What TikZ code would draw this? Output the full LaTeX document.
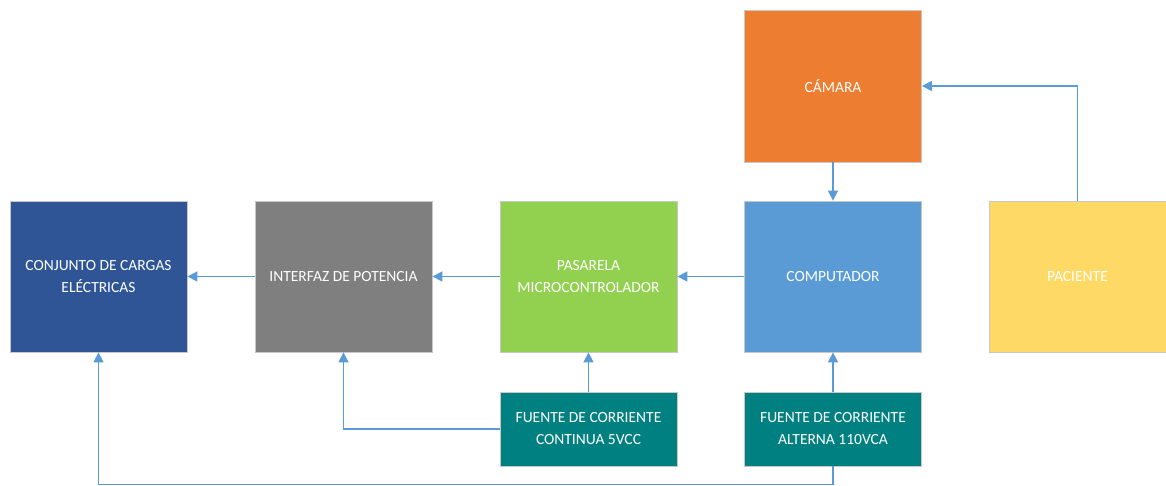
\documentclass[tikz,border=0pt]{standalone}
\usepackage{fontspec}
\setmainfont{Carlito}
\usetikzlibrary{arrows.meta}
\definecolor{azul}{HTML}{2F5597}
\definecolor{gris}{HTML}{7F7F7F}
\definecolor{verde}{HTML}{92D050}
\definecolor{celeste}{HTML}{5B9BD5}
\definecolor{naranja}{HTML}{ED7D31}
\definecolor{amarillo}{HTML}{FFD966}
\definecolor{teal}{HTML}{008080}
\definecolor{borde}{HTML}{C8C8C8}
\begin{document}
\begin{tikzpicture}[x=1pt,y=1pt,
  bloque/.style={draw=borde,line width=0.8pt,text=white,align=center,
    minimum width=177pt,minimum height=151pt,inner sep=0pt,
    font=\fontsize{15.5}{22}\selectfont},
  fuente/.style={bloque,fill=teal,minimum height=74pt},
  flecha/.style={draw=celeste,line width=1.5pt,-{Triangle[width=10pt,length=10pt]}},
  linea/.style={draw=celeste,line width=1.5pt}]
\useasboundingbox (0,0) rectangle (1166,486);
% fila principal
\node[bloque,fill=azul] (conj) at (98.5,209.5) {CONJUNTO DE CARGAS\\ELÉCTRICAS};
\node[bloque,fill=gris] (interfaz) at (343.5,209.5) {INTERFAZ DE POTENCIA};
\node[bloque,fill=verde] (pasarela) at (588.5,209.5) {PASARELA\\MICROCONTROLADOR};
\node[bloque,fill=celeste] (comp) at (833,209.5) {COMPUTADOR};
\node[bloque,fill=amarillo] (paciente) at (1077.5,209.5) {PACIENTE};
\node[bloque,fill=naranja,minimum height=152pt] (camara) at (833,400) {CÁMARA};
% fuentes
\node[fuente] (fcont) at (588.5,57) {FUENTE DE CORRIENTE\\CONTINUA 5VCC};
\node[fuente] (falt) at (833,57) {FUENTE DE CORRIENTE\\ALTERNA 110VCA};
\coordinate (base) at (0,1.5);
% conexiones
\draw[flecha] (interfaz) -- (conj);
\draw[flecha] (pasarela) -- (interfaz);
\draw[flecha] (comp) -- (pasarela);
\draw[flecha] (camara) -- (comp);
\draw[flecha] (paciente.north) |- (camara.east);
\draw[flecha] (fcont) -- (pasarela);
\draw[flecha] (fcont.west) -| (interfaz.south);
\draw[flecha] (falt) -- (comp);
\draw[flecha] (falt.south) -- (falt.south |- base) -| (conj.south);
\end{tikzpicture}
\end{document}
